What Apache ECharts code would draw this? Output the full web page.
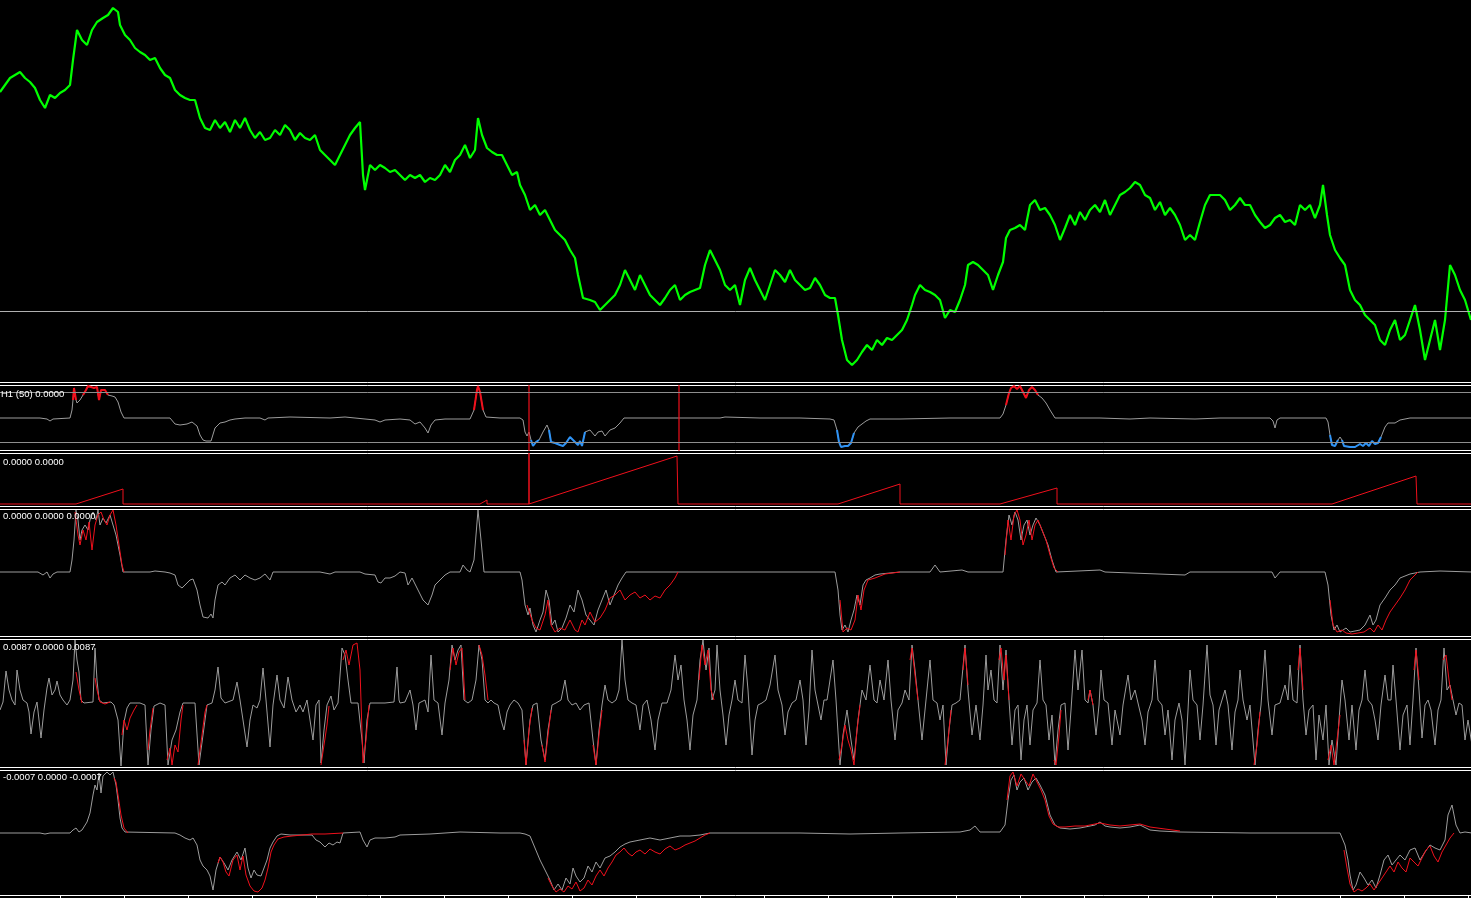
<!DOCTYPE html>
<html><head><meta charset="utf-8">
<script src="https://cdn.jsdelivr.net/npm/echarts@6.0.0/dist/echarts.min.js"></script>
<style>html,body{margin:0;padding:0;background:#000;overflow:hidden}#c{width:1471px;height:898px}</style>
</head><body><div id="c"></div>
<script>
// ---------- DATA (x = bar index, y = indicator value) ----------
const price = [[0,1.289],[5,1.296],[10,1.303],[15,1.306],[20,1.309],[25,1.303],[30,1.299],[35,1.293],[40,1.281],[45,1.273],[50,1.286],[55,1.283],[60,1.288],[65,1.291],[70,1.296],[73,1.321],[77,1.351],[82,1.341],[87,1.336],[92,1.351],[97,1.359],[103,1.363],[108,1.366],[113,1.373],[118,1.369],[120,1.356],[125,1.346],[130,1.341],[135,1.333],[140,1.329],[145,1.326],[150,1.321],[155,1.323],[160,1.313],[165,1.306],[170,1.303],[175,1.291],[180,1.286],[185,1.283],[190,1.281],[195,1.281],[200,1.263],[205,1.253],[210,1.251],[215,1.261],[220,1.253],[225,1.259],[230,1.249],[235,1.261],[240,1.253],[245,1.263],[250,1.251],[255,1.243],[260,1.249],[265,1.241],[270,1.243],[275,1.251],[280,1.246],[285,1.256],[290,1.251],[295,1.241],[300,1.248],[305,1.243],[310,1.241],[315,1.246],[320,1.231],[325,1.226],[330,1.221],[335,1.216],[340,1.226],[345,1.236],[350,1.246],[355,1.253],[360,1.259],[363,1.206],[365,1.191],[370,1.216],[375,1.211],[380,1.216],[385,1.213],[390,1.209],[395,1.211],[400,1.206],[405,1.201],[410,1.206],[415,1.203],[420,1.206],[425,1.199],[430,1.203],[435,1.201],[440,1.206],[445,1.216],[450,1.209],[455,1.221],[460,1.226],[465,1.236],[470,1.223],[475,1.231],[478,1.263],[482,1.246],[487,1.233],[492,1.229],[497,1.226],[502,1.226],[507,1.216],[512,1.206],[517,1.209],[520,1.196],[525,1.186],[530,1.171],[535,1.176],[540,1.166],[545,1.171],[550,1.161],[555,1.151],[560,1.146],[565,1.141],[570,1.131],[575,1.123],[578,1.106],[583,1.083],[590,1.081],[595,1.079],[600,1.071],[605,1.076],[610,1.081],[615,1.086],[620,1.096],[625,1.111],[630,1.101],[635,1.091],[640,1.106],[645,1.096],[650,1.086],[655,1.081],[660,1.076],[665,1.083],[670,1.091],[675,1.096],[680,1.081],[685,1.086],[690,1.089],[695,1.091],[700,1.093],[705,1.116],[710,1.131],[715,1.121],[720,1.111],[725,1.096],[730,1.091],[735,1.096],[740,1.076],[745,1.101],[750,1.113],[755,1.101],[760,1.091],[765,1.081],[770,1.096],[775,1.111],[780,1.106],[785,1.099],[790,1.111],[795,1.101],[800,1.096],[805,1.091],[810,1.093],[815,1.103],[820,1.096],[825,1.086],[830,1.083],[835,1.083],[838,1.066],[842,1.041],[847,1.021],[852,1.016],[857,1.021],[862,1.029],[867,1.036],[872,1.031],[877,1.041],[882,1.036],[887,1.043],[892,1.041],[897,1.046],[902,1.051],[907,1.061],[912,1.076],[915,1.086],[920,1.096],[925,1.091],[930,1.089],[935,1.086],[940,1.081],[945,1.063],[950,1.071],[955,1.069],[960,1.081],[965,1.096],[968,1.116],[973,1.119],[978,1.116],[983,1.111],[988,1.106],[993,1.091],[998,1.106],[1003,1.119],[1006,1.143],[1010,1.151],[1015,1.153],[1020,1.156],[1025,1.151],[1030,1.176],[1035,1.181],[1040,1.171],[1045,1.173],[1050,1.166],[1055,1.156],[1060,1.141],[1065,1.153],[1070,1.166],[1075,1.156],[1080,1.169],[1085,1.161],[1090,1.171],[1095,1.176],[1100,1.169],[1105,1.181],[1110,1.166],[1115,1.176],[1120,1.186],[1125,1.189],[1130,1.193],[1135,1.199],[1140,1.196],[1145,1.186],[1150,1.183],[1155,1.171],[1160,1.179],[1165,1.166],[1170,1.173],[1175,1.166],[1180,1.156],[1185,1.141],[1190,1.146],[1195,1.141],[1200,1.159],[1205,1.176],[1210,1.186],[1215,1.186],[1220,1.186],[1225,1.181],[1230,1.171],[1235,1.176],[1240,1.183],[1245,1.176],[1250,1.176],[1255,1.166],[1260,1.159],[1265,1.153],[1270,1.156],[1275,1.163],[1280,1.166],[1285,1.159],[1290,1.161],[1295,1.156],[1300,1.176],[1305,1.171],[1310,1.176],[1315,1.163],[1320,1.176],[1323,1.196],[1327,1.166],[1330,1.146],[1335,1.131],[1340,1.123],[1345,1.116],[1350,1.091],[1355,1.081],[1360,1.076],[1365,1.066],[1370,1.061],[1375,1.056],[1380,1.041],[1385,1.036],[1390,1.051],[1395,1.061],[1400,1.041],[1405,1.046],[1410,1.061],[1415,1.076],[1420,1.051],[1425,1.021],[1430,1.041],[1435,1.061],[1440,1.031],[1445,1.061],[1450,1.116],[1455,1.106],[1460,1.091],[1465,1.081],[1471,1.061]];
const priceLevel = 1.071;

const h1Osc = [[-1,-0.5],[40,-0.5],[47,-1.5],[50,-3.5],[53,-1.5],[70,-0.5],[72,7.5],[73,17.5],[74,29.5],[75,31.5],[76,17.5],[77,14.5],[80,17.5],[83,22.5],[86,27.5],[88,31.5],[91,30.5],[94,29.5],[97,30.5],[99,17.5],[101,27.5],[103,29.5],[105,27.5],[108,22.5],[112,21.5],[115,20.5],[118,15.5],[121,5.5],[124,-0.5],[170,-0.5],[175,-6.5],[180,-7.5],[187,-6.5],[192,-4.5],[197,-8.5],[200,-17.5],[203,-22.5],[206,-23.5],[208,-21.5],[211,-23.5],[213,-21.5],[215,-10.5],[220,-5.5],[225,-4.5],[230,-2.5],[235,-1.5],[245,-0.5],[260,-0.5],[265,-2.5],[268,-0.5],[290,0.5],[330,-0.5],[345,0.5],[365,-1.5],[375,-2.5],[380,-4.5],[385,-2.5],[400,-1.5],[410,-2.5],[415,-6.5],[420,-4.5],[425,-10.5],[428,-15.5],[431,-7.5],[435,-2.5],[445,-1.5],[470,-1.5],[474,7.5],[477,27.5],[478,31.5],[480,25.5],[483,7.5],[486,0.5],[500,-0.5],[520,-0.5],[523,-2.5],[525,-14.5],[527,-18.5],[529,-14.5],[531,-22.5],[533,-28.5],[536,-24.5],[539,-22.5],[543,-14.5],[547,-7.5],[549,-12.5],[551,-24.5],[555,-25.5],[560,-27.5],[563,-28.5],[566,-25.5],[570,-19.5],[572,-17.5],[575,-24.5],[578,-27.5],[580,-23.5],[582,-28.5],[585,-14.5],[590,-12.5],[595,-18.5],[598,-14.5],[602,-13.5],[605,-18.5],[610,-12.5],[615,-10.5],[620,-5.5],[624,-0.5],[680,-0.5],[720,-0.5],[725,0.5],[760,-0.5],[800,-0.5],[830,-1.5],[834,-2.5],[837,-12.5],[839,-24.5],[841,-29.5],[845,-28.5],[848,-28.5],[851,-25.5],[854,-15.5],[858,-9.5],[862,-6.5],[866,-3.5],[870,-1.5],[900,-1.5],[950,-0.5],[1000,-0.5],[1003,3.5],[1006,12.5],[1009,24.5],[1011,29.5],[1014,31.5],[1017,28.5],[1020,31.5],[1023,25.5],[1026,19.5],[1029,27.5],[1032,30.5],[1035,27.5],[1038,22.5],[1042,19.5],[1046,14.5],[1050,7.5],[1055,-0.5],[1100,-0.5],[1130,-1.5],[1150,-0.5],[1195,-1.5],[1220,-0.5],[1270,-0.5],[1273,-3.5],[1275,-10.5],[1277,-2.5],[1280,-0.5],[1326,-0.5],[1328,-4.5],[1330,-17.5],[1332,-27.5],[1335,-28.5],[1338,-22.5],[1340,-19.5],[1342,-22.5],[1344,-28.5],[1350,-29.5],[1355,-29.5],[1360,-26.5],[1363,-28.5],[1366,-25.5],[1369,-28.5],[1372,-23.5],[1375,-26.5],[1378,-25.5],[1381,-19.5],[1385,-9.5],[1388,-5.5],[1395,-5.5],[1400,-2.5],[1410,-0.5],[1440,-0.5],[1472,-0.5]];
const h1Levels = [25, -25];
const h1SpikeBars = [529, 679];

const counter = [[-1,0],[76,0],[123,15],[123,0],[480,0],[487,4],[487,0],[529,0],[529,60],[529,0],[677,48],[678,0],[838,0],[900,20],[900,0],[1000,0],[1057,16],[1057,0],[1332,0],[1416,28],[1417,0],[1472,0]];

const p4Gray = [[-1,0],[38,0],[40,-1],[43,-3],[47,0],[50,-6],[53,-2],[57,0],[70,0],[72,12],[74,32],[76,62],[78,52],[80,32],[82,42],[85,47],[88,42],[90,52],[93,60],[96,52],[98,62],[100,47],[103,54],[106,49],[110,57],[113,47],[116,37],[120,17],[123,0],[150,0],[155,1],[165,0],[170,-1],[175,-3],[178,-13],[182,-16],[185,-13],[190,-8],[193,-7],[197,-18],[200,-33],[203,-45],[205,-43],[208,-46],[211,-42],[213,-46],[215,-28],[218,-13],[222,-10],[225,-13],[230,-6],[235,-3],[240,-8],[245,-3],[250,-6],[255,-8],[260,-6],[265,-2],[270,-8],[273,0],[320,0],[325,-1],[330,-2],[335,0],[360,0],[365,-2],[375,-3],[378,-10],[381,-11],[385,-6],[390,-6],[395,-4],[400,0],[405,-1],[408,-13],[412,-6],[418,-18],[423,-28],[428,-33],[432,-23],[435,-13],[440,-8],[445,-3],[450,0],[460,0],[463,7],[467,2],[470,0],[474,12],[478,62],[481,32],[484,0],[520,0],[522,-8],[525,-33],[528,-43],[530,-36],[533,-53],[536,-60],[540,-48],[543,-40],[546,-18],[549,-28],[552,-53],[555,-48],[558,-60],[562,-56],[566,-46],[570,-33],[574,-40],[578,-18],[582,-28],[586,-43],[590,-48],[594,-53],[598,-38],[602,-28],[606,-18],[610,-33],[614,-23],[618,-13],[622,-6],[626,0],[835,0],[838,-18],[840,-43],[842,-58],[845,-53],[848,-60],[851,-48],[854,-38],[857,-23],[860,-33],[863,-13],[866,-8],[870,-6],[875,-3],[880,-2],[890,-1],[900,0],[930,0],[935,7],[940,0],[962,2],[968,0],[1003,0],[1006,32],[1009,57],[1012,47],[1015,60],[1018,52],[1021,32],[1024,47],[1027,52],[1030,37],[1033,47],[1036,54],[1040,47],[1044,37],[1048,27],[1052,12],[1056,0],[1100,2],[1105,0],[1185,-3],[1190,0],[1272,0],[1275,-6],[1280,0],[1325,0],[1328,-13],[1331,-43],[1334,-58],[1337,-53],[1340,-60],[1343,-58],[1346,-56],[1350,-60],[1355,-59],[1360,-58],[1365,-53],[1370,-43],[1373,-53],[1376,-48],[1380,-33],[1385,-26],[1390,-18],[1395,-13],[1400,-6],[1405,-4],[1410,-2],[1415,-1],[1420,0],[1440,1],[1472,0]];
const p4Red = [
 [[75,60],[78,37],[80,27],[83,42],[86,32],[89,50],[92,22],[95,47],[98,57],[101,60],[104,52],[107,47],[110,57],[113,62],[116,47],[119,27],[122,7],[124,0]],
 [[527,-33],[532,-48],[536,-56],[540,-58],[545,-43],[548,-28],[551,-53],[555,-60],[560,-56],[565,-58],[570,-48],[575,-58],[578,-60],[582,-48],[585,-53],[590,-40],[595,-50],[600,-46],[605,-38],[610,-26],[615,-23],[620,-18],[625,-28],[630,-23],[635,-20],[640,-26],[645,-23],[650,-28],[655,-24],[660,-26],[665,-18],[670,-13],[675,-6],[678,0]],
 [[840,-28],[843,-60],[847,-56],[851,-58],[855,-48],[858,-23],[861,-38],[864,-18],[868,-8],[875,-6],[885,-2],[900,0]],
 [[1005,17],[1008,52],[1011,32],[1014,57],[1017,62],[1020,52],[1023,27],[1026,37],[1029,52],[1032,32],[1035,47],[1038,52],[1042,42],[1046,32],[1050,17],[1054,4],[1058,0]],
 [[1330,-28],[1333,-53],[1337,-60],[1342,-58],[1346,-61],[1352,-62],[1358,-61],[1364,-60],[1370,-56],[1374,-60],[1378,-53],[1382,-58],[1386,-48],[1390,-40],[1395,-33],[1400,-26],[1405,-18],[1410,-8],[1415,-3],[1418,0]]
];

const p5Gray = [[0,-7],[3,1],[6,32],[9,13],[12,3],[15,-2],[17,33],[20,13],[23,3],[27,0],[29,-9],[31,-31],[34,-9],[37,1],[41,-35],[44,-7],[47,15],[49,25],[52,8],[55,13],[57,22],[60,8],[63,3],[67,-2],[70,3],[73,23],[75,63],[77,43],[79,31],[81,3],[84,0],[93,1],[95,55],[97,23],[99,3],[103,0],[111,1],[114,-2],[118,-17],[121,-63],[124,-19],[127,-5],[130,0],[140,0],[145,-2],[148,-62],[151,-27],[154,-3],[160,0],[165,-2],[168,-62],[172,-37],[176,-27],[180,-9],[183,0],[195,0],[199,-62],[203,-32],[207,-2],[212,0],[215,13],[218,36],[221,5],[225,0],[233,3],[237,21],[240,3],[243,-17],[247,-44],[250,-17],[253,-2],[257,-5],[260,3],[263,35],[266,3],[270,-44],[273,-2],[277,28],[280,3],[284,-5],[288,26],[292,3],[296,-9],[300,-2],[303,-9],[307,3],[310,-17],[313,-37],[316,-2],[319,3],[321,-60],[324,-27],[327,-2],[331,7],[334,-7],[338,0],[342,55],[345,48],[348,23],[351,0],[358,0],[362,-37],[364,-60],[367,-17],[370,0],[385,0],[394,1],[397,36],[399,3],
 [400,0],[405,1],[410,13],[413,-2],[416,-27],[419,0],[425,3],[428,-9],[431,48],[434,3],[438,0],[442,-32],[445,0],[449,23],[452,58],[455,43],[458,53],[461,58],[464,3],[468,0],[472,3],[476,23],[479,58],[482,43],[485,3],[488,0],[491,3],[494,0],[498,-2],[501,-17],[504,-27],[507,-9],[510,-2],[514,3],[518,0],[522,-7],[526,-62],[530,-17],[533,-2],[537,0],[541,-37],[545,-57],[548,-27],[552,-2],[556,0],[561,3],[565,23],[568,3],[572,-2],[576,0],[580,-7],[584,-2],[589,0],[593,-37],[596,-62],[599,-27],[602,-2],[605,18],[608,3],[612,0],[616,3],[619,13],[622,63],[625,23],[628,3],[632,0],[636,-2],[640,-27],[643,-2],[647,3],[651,-17],[655,-47],[658,-17],[662,0],[667,0],[671,13],[675,48],[678,23],[681,38],[684,3],[687,-17],[690,-47],[693,-12],[697,3],[700,43],[703,63],[706,33],[709,55],[712,3],[715,13],[717,58],[720,13],[723,-12],[726,-42],[729,-12],[732,3],[735,23],[738,3],[742,0],[745,48],[748,13],[752,-52],[755,-17],[758,-2],[762,0],[766,3],[770,18],[775,48],[778,13],[782,-2],[785,-32],[788,-9],[792,0],[796,3],[800,23],[803,3],[806,-42],[809,-7],[812,53],[815,13],[818,-2],[821,-17],[824,3],[827,3],[830,23],[833,43],[836,3],[840,-62],[843,-32],[847,-7],[851,-37],[854,-57],[858,-17],[862,13],[866,3],[870,38],[874,3],[877,0],[880,23],[884,3],[888,43],[891,3],[895,-37],[898,-7],[902,0],[905,13],[909,3],[912,58],[915,33],[918,3],[922,-37],[925,-7],[930,43],[933,3],[937,0],[940,-17],[943,-2],[946,-62],[949,-27],[952,-2],[956,0],[960,3],[965,58],[968,13],[972,-32],[976,-2],[980,-37],[983,-2],[986,48],[988,13],[991,33],[994,3],[997,0],[1000,58],[1003,13],[1006,53],[1009,3],[1012,-42],[1015,-7],[1018,-2],[1021,-57],[1024,-17],[1027,-2],[1030,-42],[1033,-7],[1037,0],[1040,43],[1043,3],[1046,-2],[1049,-37],[1052,-12],[1055,-62],[1058,-27],[1061,-2],[1065,0],[1068,-47],[1071,-7],[1075,53],[1078,13],[1082,53],[1085,3],[1088,0],[1090,13],[1093,-2],[1096,-32],[1099,-2],[1101,33],[1104,3],[1108,0],[1112,-42],[1115,-7],[1120,-32],[1123,-2],[1128,28],[1131,3],[1135,13],[1138,0],[1142,-17],[1145,-42],[1148,-9],[1152,3],[1155,43],[1158,3],[1162,-2],[1165,-32],[1168,-7],[1172,-57],[1175,-17],[1179,0],[1182,-17],[1185,-62],[1188,-7],[1190,33],[1193,3],[1197,-2],[1200,-37],[1203,-2],[1207,58],[1210,8],[1213,-2],[1216,-42],[1219,-7],[1222,3],[1225,13],[1228,-2],[1232,-47],[1235,-9],[1238,3],[1240,33],[1243,3],[1247,-17],[1250,-2],[1255,-62],[1258,-27],[1261,-2],[1265,53],[1268,3],[1272,-32],[1275,-2],[1280,0],[1285,18],[1288,3],[1290,38],[1293,3],[1297,0],[1300,58],[1303,3],[1306,-32],[1309,-7],[1313,-2],[1316,-57],[1319,-12],[1323,-37],[1326,-2],[1329,-62],[1332,-37],[1336,-62],[1339,-17],[1342,23],[1345,3],[1349,-37],[1352,-2],[1356,-47],[1359,-7],[1362,3],[1365,33],[1368,3],[1372,-2],[1375,-17],[1378,-37],[1381,-2],[1385,28],[1388,3],[1391,3],[1393,38],[1396,3],[1400,-47],[1403,-12],[1407,-2],[1410,-42],[1413,3],[1416,55],[1419,13],[1422,-35],[1425,-2],[1428,3],[1431,-7],[1435,-42],[1438,-7],[1441,3],[1444,55],[1447,13],[1450,18],[1453,3],[1456,-12],[1459,0],[1462,-2],[1465,-37],[1468,-17],[1472,-42]];
const p5Red = [
 [[76,31],[79,13],[82,0]],
 [[95,25],[97,13],[100,1],[105,-1],[110,1]],
 [[122,-32],[124,-17],[127,-27],[130,-15],[134,-7],[137,-2]],
 [[148,-47],[150,-27],[153,-5]],
 [[167,-57],[170,-45],[172,-62],[175,-42],[178,-49],[181,-17],[183,-2]],
 [[198,-62],[202,-32],[205,-9],[207,-2]],
 [[321,-62],[324,-42],[327,-22],[329,-3]],
 [[343,43],[346,53],[349,38],[353,58],[357,60],[360,33],[363,-60],[366,-37],[369,-2]],
 [[450,33],[453,55],[456,38],[459,51],[462,55],[465,3]],
 [[479,58],[482,48],[485,28],[488,3]],
 [[524,-37],[526,-62],[529,-27],[532,-5]],
 [[542,-42],[545,-59],[548,-32],[551,-7]],
 [[593,-42],[596,-62],[599,-32],[602,-7]],
 [[699,23],[702,58],[705,38],[708,53],[711,13],[714,3]],
 [[839,-57],[842,-42],[845,-22],[848,-37],[851,-47],[854,-62],[857,-27],[860,-2]],
 [[910,43],[912,55],[915,28],[918,3]],
 [[945,-62],[948,-37],[951,-7]],
 [[963,33],[965,55],[968,18]],
 [[999,43],[1001,55],[1004,23],[1006,48],[1009,3]],
 [[1054,-57],[1056,-62],[1059,-32],[1061,-7]],
 [[1088,3],[1090,13],[1093,-2]],
 [[1254,-62],[1257,-42],[1260,-9]],
 [[1298,33],[1300,55],[1303,13]],
 [[1328,-57],[1331,-42],[1334,-62],[1337,-37],[1340,-12]],
 [[1414,33],[1416,53],[1419,23]],
 [[1443,43],[1446,48],[1449,23],[1452,3]]
];

const p6Gray = [[-1,0],[40,0],[45,-1],[50,0],[70,0],[73,3],[76,5],[79,1],[82,3],[87,11],[90,20],[93,38],[95,48],[97,43],[99,60],[101,40],[103,57],[107,61],[110,58],[113,61],[116,48],[118,33],[120,15],[122,5],[125,1],[175,0],[180,-2],[185,-5],[190,-7],[193,-5],[197,-12],[200,-27],[203,-33],[207,-37],[210,-43],[213,-57],[216,-37],[220,-24],[224,-30],[228,-37],[232,-27],[237,-19],[241,-27],[245,-15],[248,-35],[251,-45],[254,-37],[257,-42],[261,-43],[264,-35],[267,-27],[270,-15],[273,-9],[277,-3],[281,-1],[290,-2],[300,-2],[312,-2],[316,-7],[320,-9],[325,-14],[329,-10],[333,-12],[337,-9],[340,-10],[343,0],[360,1],[363,-7],[367,-14],[370,-7],[375,-5],[385,-5],[395,-4],[400,-2],[430,-1],[460,1],[500,0],[520,0],[525,-1],[530,-3],[535,-15],[540,-27],[545,-37],[550,-47],[554,-57],[558,-51],[562,-57],[566,-45],[570,-51],[573,-35],[576,-43],[580,-49],[584,-45],[588,-33],[592,-39],[596,-29],[600,-35],[605,-25],[610,-23],[615,-19],[620,-14],[625,-11],[630,-9],[640,-7],[650,-5],[660,-7],[670,-5],[680,-3],[690,-3],[700,-2],[710,0],[800,0],[850,-1],[900,0],[960,1],[970,3],[975,7],[980,1],[1000,1],[1005,8],[1008,33],[1011,53],[1014,58],[1017,43],[1020,51],[1024,55],[1028,43],[1032,51],[1036,55],[1040,48],[1045,38],[1050,18],[1055,8],[1060,5],[1070,4],[1080,5],[1090,7],[1095,8],[1100,11],[1105,7],[1110,6],[1120,5],[1130,6],[1140,8],[1150,3],[1160,2],[1180,1],[1250,0],[1340,0],[1345,-12],[1348,-27],[1350,-42],[1353,-57],[1356,-52],[1360,-39],[1364,-45],[1368,-52],[1372,-47],[1376,-55],[1380,-42],[1384,-27],[1388,-22],[1392,-32],[1396,-27],[1400,-22],[1405,-27],[1410,-17],[1415,-15],[1420,-27],[1425,-19],[1430,-12],[1435,-15],[1440,-17],[1445,-7],[1448,18],[1452,28],[1456,8],[1460,0],[1465,1],[1472,0]];
const p6Red = [
 [[114,55],[116,51],[118,38],[121,18],[124,5],[128,0]],
 [[218,-30],[220,-24],[223,-29],[226,-39],[229,-43],[233,-27],[237,-22],[240,-37],[243,-23],[246,-42],[250,-53],[254,-58],[258,-59],[262,-55],[265,-47],[268,-35],[271,-19],[274,-12],[278,-6],[284,-4],[292,-3],[302,-2],[312,-1],[325,-1],[343,0]],
 [[548,-45],[552,-53],[556,-59],[560,-56],[564,-59],[568,-53],[572,-56],[576,-49],[580,-58],[584,-55],[588,-47],[592,-52],[596,-43],[600,-37],[604,-43],[608,-35],[612,-29],[616,-22],[620,-19],[624,-15],[628,-20],[632,-23],[636,-19],[640,-17],[645,-21],[650,-16],[655,-19],[660,-21],[665,-16],[670,-13],[675,-17],[680,-15],[685,-12],[690,-10],[695,-8],[700,-5],[705,-2],[710,0]],
 [[1007,33],[1010,57],[1013,61],[1017,47],[1021,59],[1025,53],[1029,47],[1033,59],[1037,51],[1041,43],[1045,33],[1049,17],[1053,9],[1058,6],[1065,6],[1075,7],[1085,7],[1095,9],[1100,10],[1110,8],[1120,7],[1130,8],[1140,9],[1150,6],[1165,4],[1180,2]],
 [[1344,-17],[1347,-35],[1350,-51],[1354,-59],[1358,-56],[1362,-58],[1366,-55],[1370,-51],[1374,-57],[1378,-51],[1382,-45],[1386,-39],[1390,-33],[1394,-39],[1398,-29],[1402,-35],[1406,-39],[1410,-25],[1414,-29],[1418,-33],[1422,-25],[1426,-17],[1430,-13],[1434,-23],[1438,-29],[1442,-19],[1446,-12],[1450,-5],[1454,0]]
];

const paneLabels = ['H1 (50) 0.0000', '0.0000 0.0000', '0.0000 0.0000 0.0000', '0.0087 0.0000 0.0087', '-0.0007 0.0000 -0.0007'];

// ---------- LAYOUT / STYLE ----------
const GREEN = '#00ff00', GRAY = '#9c9c9c', RED = '#f0101c', BLUE = '#2f93f5', LEVEL = '#8e8e8e', MAINLEVEL = '#b0b0b0';
const GRID_TOPS = [-1.5, 385.5, 453.5, 509.5, 639.5, 770.5];
const GRID_H = [384, 65, 53, 127, 128, 125];
const Y_RANGE = [[0.9985, 1.3825], [-33, 32], [-2.5, 50.5], [-64.5, 62.5], [-64.5, 63.5], [-62.5, 62.5]];
const LABEL_POS = [[1, 394], [3, 462], [3, 516.5], [3, 647.5], [3, 777.5]];

const grid = GRID_TOPS.map((t, i) => ({left: -1, width: 1473, top: t, height: GRID_H[i], show: true, borderColor: '#ffffff', borderWidth: 1, backgroundColor: 'rgba(0,0,0,0)', containLabel: false, outerBoundsMode: 'none'}));
grid.push({left: -4, width: 1472, top: 770.5, height: 125, show: false, containLabel: false, outerBoundsMode: 'none'});

const xAxis = GRID_TOPS.map((t, i) => ({type: 'value', gridIndex: i, min: -1, max: 1472, show: false}));
xAxis.push({type: 'value', gridIndex: 6, min: 0, max: 1472, interval: 64, position: 'bottom',
  axisLine: {show: false, onZero: false}, axisTick: {show: true, length: 3, inside: false, lineStyle: {color: '#ffffff', width: 1}},
  axisLabel: {show: false}, splitLine: {show: false}});
const yAxis = Y_RANGE.map((r, i) => ({type: 'value', gridIndex: i, min: r[0], max: r[1], show: false}));
yAxis.push({type: 'value', gridIndex: 6, min: 0, max: 1, show: false});

function ln(idx, data, color, width, z) {
  return {type: 'line', xAxisIndex: idx, yAxisIndex: idx, data: data, symbol: 'none', showSymbol: false,
    lineStyle: {color: color, width: width}, itemStyle: {color: color}, z: z || 2, silent: true, clip: true,
    animation: false, emphasis: {disabled: true}, connectNulls: false};
}
function band(pts, test) {
  return pts.map((p, i) => {
    const on = test(p[1]) || (i > 0 && test(pts[i - 1][1])) || (i < pts.length - 1 && test(pts[i + 1][1]));
    return on ? p : [p[0], null];
  });
}
function marks(idx, color, items, z) {
  const s = ln(idx, [], color, 1, z);
  s.markLine = {silent: true, symbol: ['none', 'none'], label: {show: false}, animation: false,
    lineStyle: {color: color, width: 1, type: 'solid'}, data: items};
  return s;
}

const series = [];
series.push(marks(0, MAINLEVEL, [{yAxis: priceLevel}], 1));
series.push(ln(0, price, GREEN, 2.2, 3));

series.push(marks(1, LEVEL, h1Levels.map(v => ({yAxis: v})), 1));
series.push(ln(1, h1Osc, GRAY, 1, 2));
series.push(ln(1, band(h1Osc, v => v >= 24), RED, 2, 3));
series.push(ln(1, band(h1Osc, v => v <= -24), BLUE, 2, 3));
// full-height red spike bars in the H1 pane (values far outside the pane, clipped)
h1SpikeBars.forEach(b => series.push(ln(1, [[b, -100], [b, 100]], RED, 1.2, 4)));

series.push(ln(2, counter, RED, 1, 2));

series.push(ln(3, p4Gray, GRAY, 1, 2));
p4Red.forEach(s => series.push(ln(3, s, RED, 1, 3)));
series.push(ln(4, p5Gray, GRAY, 1, 2));
p5Red.forEach(s => series.push(ln(4, s, RED, 1, 3)));
series.push(ln(5, p6Gray, GRAY, 1, 2));
p6Red.forEach(s => series.push(ln(5, s, RED, 1, 3)));

const graphic = paneLabels.map((t, i) => ({type: 'text', x: LABEL_POS[i][0], y: LABEL_POS[i][1], silent: true, z: 100,
  style: {text: t, fill: '#ffffff', fontSize: 9.5, fontFamily: '"Liberation Sans", Arial, sans-serif', align: 'left', verticalAlign: 'middle'}}));

const chart = echarts.init(document.getElementById('c'), null, {renderer: 'canvas', width: 1471, height: 898});
chart.setOption({backgroundColor: '#000000', animation: false, tooltip: {show: false}, legend: {show: false},
  grid: grid, xAxis: xAxis, yAxis: yAxis, series: series, graphic: graphic});
</script>
</body></html>
